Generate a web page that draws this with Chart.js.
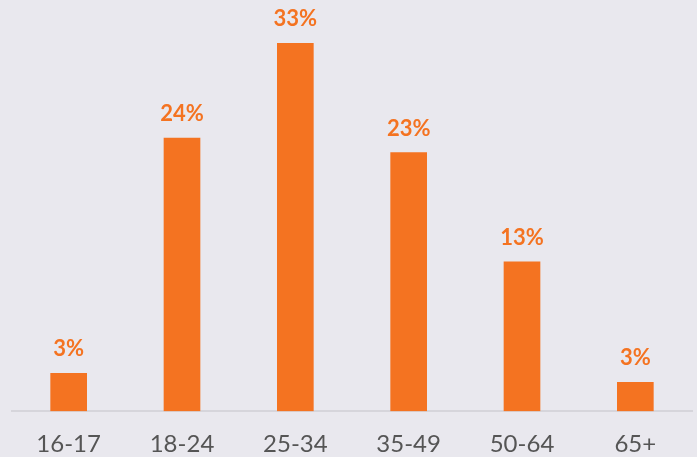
<!DOCTYPE html>
<html>
<head>
<meta charset="utf-8">
<script src="https://cdn.jsdelivr.net/npm/chart.js@4"></script>
<style>
	html, body { margin: 0; padding: 0; background: #e9e8ee; }
	#myChart { display: block; }
</style>
</head>
<body>
<canvas id="myChart" width="697" height="457"></canvas>
<script>
const ageGroups = ['16-17', '18-24', '25-34', '35-49', '50-64', '65+'];
const shares = [3.4, 24.5, 33, 23.2, 13.4, 2.6];
const shareLabels = ['3%', '24%', '33%', '23%', '13%', '3%'];

const orange = '#f47321';

// labels above the bars
const valueLabels = {
	id: 'valueLabels',
	afterDatasetsDraw(chart) {
		const ctx = chart.ctx;
		const meta = chart.getDatasetMeta(0);
		ctx.save();
		ctx.fillStyle = orange;
		ctx.font = 'bold 22px Lato';
		ctx.textAlign = 'center';
		ctx.textBaseline = 'alphabetic';
		meta.data.forEach((bar, i) => {
			ctx.fillText(shareLabels[i], bar.x, bar.y - 17);
		});
		ctx.restore();
	}
};

const canvas = document.getElementById('myChart').getContext('2d');
let myChart = new Chart(canvas, {
	type: 'bar',
	data: {
		labels: ageGroups,
		datasets: [
			{
				data: shares,
				backgroundColor: orange,
				borderWidth: 0,
				barThickness: 36,
			},
		],
	},
	options: {
		responsive: false,
		animation: false,
		layout: {
			padding: { left: 12, right: 5, top: 10, bottom: -21 },
		},
		plugins: {
			legend: { display: false },
			tooltip: { enabled: false },
		},
		scales: {
			x: {
				grid: { display: false, drawTicks: false },
				border: { display: true, color: '#d6d5db', width: 2 },
				ticks: {
					color: '#555555',
					font: { family: 'Lato', size: 24 },
					padding: 19,
				},
			},
			y: {
				display: false,
				min: 0,
				max: 36,
			},
		},
	},
	plugins: [valueLabels],
});
</script>
</body>
</html>
